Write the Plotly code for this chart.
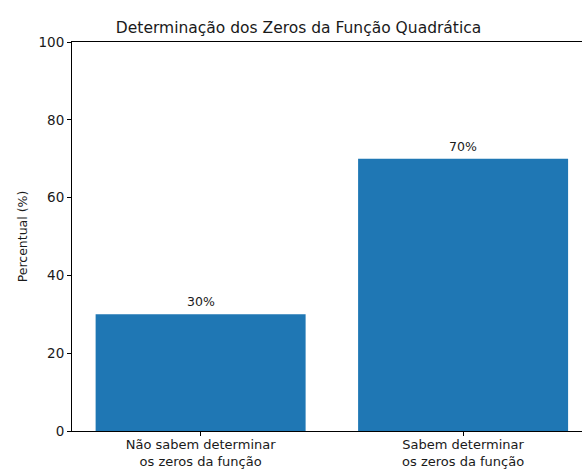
import plotly.graph_objects as go

# Survey result: share of students who can find the zeros of a quadratic function
categorias = ["Não sabem determinar<br>os zeros da função", "Sabem determinar<br>os zeros da função"]
percentuais = [30, 70]
y_ticks = [0, 20, 40, 60, 80, 100]

BAR_COLOR = "#1f77b4"
TEXT_COLOR = "#1a1a1a"
FONT = "DejaVu Sans"

fig = go.Figure()
fig.add_trace(go.Bar(
    x=list(range(len(categorias))),
    y=percentuais,
    width=0.8,
    marker=dict(color=BAR_COLOR, line=dict(width=0)),
    hoverinfo="skip",
))

# value labels above each bar
for i, v in enumerate(percentuais):
    fig.add_annotation(
        x=i, y=v, text=f"{v}%", showarrow=False,
        yanchor="bottom", yshift=3,
        font=dict(family=FONT, size=12.5, color=TEXT_COLOR),
    )

fig.update_layout(
    width=582, height=469,
    margin=dict(l=72, r=0, t=42, b=38, autoexpand=False),
    paper_bgcolor="white", plot_bgcolor="white",
    showlegend=False,
    font=dict(family=FONT, color=TEXT_COLOR),
    title=dict(
        text="Determinação dos Zeros da Função Quadrática",
        xref="container", x=0.513, xanchor="center",
        yref="container", y=0.941, yanchor="middle",
        font=dict(family=FONT, size=15.5, color=TEXT_COLOR),
    ),
    xaxis=dict(
        range=[-0.49, 1.453],
        automargin=False,
        tickmode="array",
        tickvals=list(range(len(categorias))),
        ticktext=categorias,
        ticks="outside", ticklen=4, tickwidth=1, tickcolor="black",
        ticklabelstandoff=-3,
        showline=True, linecolor="black", linewidth=1, mirror=True,
        showgrid=False, zeroline=False,
        tickfont=dict(family=FONT, size=13, color=TEXT_COLOR),
        fixedrange=True,
    ),
    yaxis=dict(
        range=[0, 100],
        automargin=False,
        tickmode="array",
        tickvals=y_ticks,
        ticktext=[str(t) for t in y_ticks],
        ticks="outside", ticklen=4, tickwidth=1, tickcolor="black",
        showline=True, linecolor="black", linewidth=1,
        showgrid=False, zeroline=False,
        tickfont=dict(family=FONT, size=13.5, color=TEXT_COLOR),
        title=dict(text="Percentual (%)", standoff=8,
                   font=dict(family=FONT, size=12.5, color=TEXT_COLOR)),
        fixedrange=True,
    ),
)

fig.write_html("out.html")
